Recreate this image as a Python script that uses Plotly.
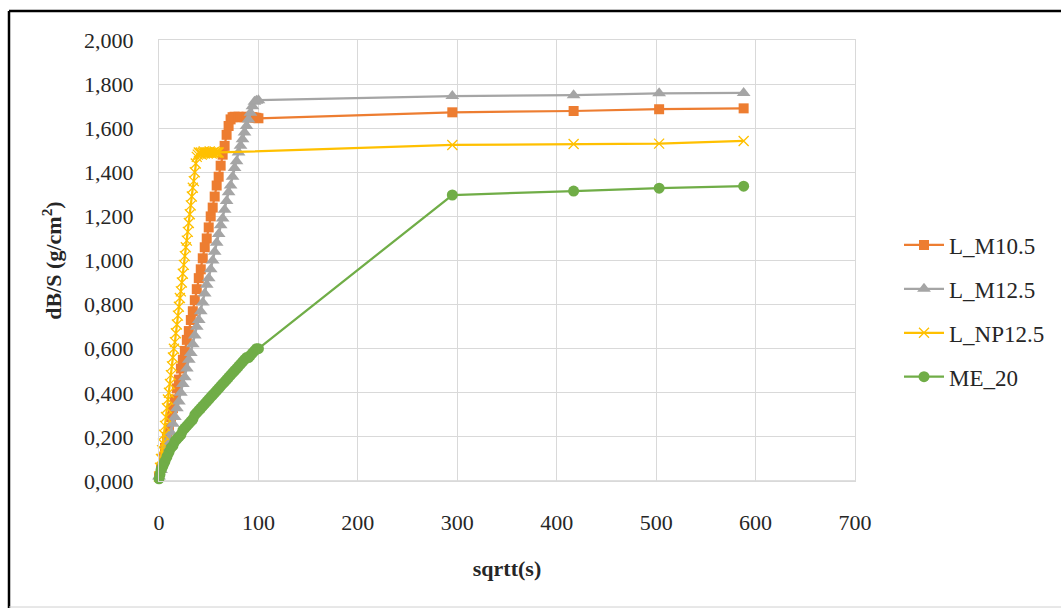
import plotly.graph_objects as go

# ---------------- data ----------------
series_names = ["L_M10.5", "L_M12.5", "L_NP12.5", "ME_20"]

m105_x = [0, 2, 4, 6, 8, 10, 12, 14, 16, 18, 20, 22, 24, 26, 28, 30, 32, 34, 36, 38,
          40, 42, 44, 46, 48, 50, 52, 54, 56, 58, 60, 62, 64, 66, 68, 70, 72, 74, 76, 78,
          80, 82, 84, 86, 88, 90, 92, 94, 96, 98, 100, 295, 417, 503, 588]
m105_y = [0.02, 0.06, 0.11, 0.15, 0.20, 0.24, 0.29, 0.33, 0.37, 0.42, 0.46, 0.51, 0.55, 0.59,
          0.64, 0.68, 0.73, 0.77, 0.82, 0.87, 0.92, 0.96, 1.01, 1.06, 1.10, 1.15, 1.20, 1.24,
          1.29, 1.34, 1.38, 1.43, 1.48, 1.52, 1.57, 1.61, 1.64, 1.65, 1.652, 1.65, 1.652, 1.65,
          1.651, 1.65, 1.652, 1.65, 1.651, 1.65, 1.648, 1.647, 1.645, 1.672, 1.678, 1.686, 1.69]

m125_x = [0, 2, 4, 6, 8, 10, 12, 14, 16, 18, 20, 22, 24, 26, 28, 30, 32, 34, 36, 38,
          40, 42, 44, 46, 48, 50, 52, 54, 56, 58, 60, 62, 64, 66, 68, 70, 72, 74, 76, 78,
          80, 82, 84, 86, 88, 90, 92, 94, 96, 98, 100, 295, 417, 503, 588]
m125_y = [0.02, 0.05, 0.09, 0.12, 0.16, 0.19, 0.22, 0.26, 0.29, 0.33, 0.36, 0.40, 0.44, 0.47,
          0.51, 0.55, 0.58, 0.62, 0.66, 0.70, 0.73, 0.77, 0.81, 0.85, 0.89, 0.92, 0.96, 1.00,
          1.04, 1.08, 1.12, 1.16, 1.19, 1.23, 1.27, 1.31, 1.34, 1.38, 1.42, 1.45, 1.49, 1.52,
          1.55, 1.58, 1.61, 1.64, 1.67, 1.70, 1.72, 1.725, 1.727, 1.746, 1.75, 1.758, 1.76]

np125_x = [0, 1, 2, 3, 4, 5, 6, 7, 8, 9, 10, 11, 12, 13, 14, 15, 16, 17, 18, 19, 20, 21, 22,
           23, 24, 25, 26, 27, 28, 29, 30, 31, 32, 33, 34, 35, 36, 37, 38, 39, 40, 41, 42, 43,
           44, 45, 46, 47, 48, 49, 50, 51, 52, 53, 54, 55, 56, 57, 58, 59, 60, 295, 417, 503, 588]
np125_y = [0.02, 0.06, 0.10, 0.14, 0.17, 0.21, 0.25, 0.29, 0.33, 0.37, 0.40, 0.44, 0.48, 0.52,
           0.56, 0.60, 0.63, 0.67, 0.71, 0.75, 0.79, 0.83, 0.86, 0.90, 0.94, 0.98, 1.02, 1.06,
           1.09, 1.13, 1.17, 1.21, 1.25, 1.29, 1.33, 1.36, 1.40, 1.44, 1.47, 1.48, 1.49, 1.485,
           1.49, 1.48, 1.49, 1.495, 1.485, 1.49, 1.49, 1.485, 1.49, 1.495, 1.49, 1.485, 1.49,
           1.49, 1.495, 1.49, 1.49, 1.49, 1.49, 1.524, 1.528, 1.53, 1.542]

me20_x = [0, 1, 2, 3, 4, 5, 6, 8, 10, 12, 14, 16, 18, 20, 22, 24, 26, 28, 30, 32, 34, 36, 38,
          40, 42, 44, 46, 48, 50, 52, 54, 56, 58, 60, 62, 64, 66, 68, 70, 72, 74, 76, 78, 80,
          82, 84, 86, 88, 90, 92, 94, 96, 98, 100, 295, 417, 503, 588]
me20_y = [0.01, 0.03, 0.05, 0.06, 0.07, 0.08, 0.09, 0.11, 0.13, 0.15, 0.16, 0.18, 0.19, 0.20,
          0.21, 0.23, 0.24, 0.25, 0.26, 0.27, 0.28, 0.30, 0.31, 0.32, 0.33, 0.34, 0.35, 0.36,
          0.37, 0.38, 0.39, 0.40, 0.41, 0.42, 0.43, 0.44, 0.45, 0.46, 0.47, 0.48, 0.49, 0.50,
          0.51, 0.52, 0.53, 0.54, 0.55, 0.56, 0.56, 0.57, 0.58, 0.59, 0.60, 0.60,
          1.297, 1.315, 1.328, 1.337]

y_ticks = [0, 0.2, 0.4, 0.6, 0.8, 1.0, 1.2, 1.4, 1.6, 1.8, 2.0]
x_ticks = [0, 100, 200, 300, 400, 500, 600, 700]

# ---------------- styling ----------------
FONT = "Palatino Linotype, Book Antiqua, Palatino, Liberation Serif, serif"
colors = ["#ED7D31", "#A5A5A5", "#FFC000", "#70AD47"]
grid = "#D9D9D9"

fig = go.Figure()
data = [(m105_x, m105_y), (m125_x, m125_y), (np125_x, np125_y), (me20_x, me20_y)]
markers = [
    dict(symbol="square", size=10, color=colors[0]),
    dict(symbol="triangle-up", size=12, color=colors[1]),
    dict(symbol="x-thin", size=10, color=colors[2], line=dict(width=1.3, color=colors[2])),
    dict(symbol="circle", size=11, color=colors[3]),
]
for i, (name, (xs, ys)) in enumerate(zip(series_names, data)):
    fig.add_trace(go.Scatter(
        x=xs, y=ys, name=name, mode="lines+markers",
        line=dict(color=colors[i], width=2.25),
        marker=markers[i], cliponaxis=False, legendgroup=name,
    ))

L, R, T, B = 159, 206, 40, 127
W, H = 1061, 608
pw, ph = W - L - R, H - T - B

def px2x(p):
    return (p - L) / pw

def px2y(p):
    return (H - B - p) / ph

fig.update_layout(
    width=W, height=H,
    margin=dict(l=L, r=R, t=T, b=B, pad=0, autoexpand=False),
    paper_bgcolor="white", plot_bgcolor="white",
    separators=",.",
    font=dict(family=FONT, size=22, color="#262626"),
    showlegend=True,
    legend=dict(
        x=px2x(899), xanchor="left", y=px2y(311), yanchor="middle",
        font=dict(family=FONT, size=23, color="#262626"),
        tracegroupgap=11, bgcolor="rgba(0,0,0,0)",
        itemwidth=40,
    ),
    xaxis=dict(
        range=[0, 700], tickvals=x_ticks, tickformat="d",
        showgrid=True, gridcolor=grid, gridwidth=1,
        zeroline=False, showline=True, linecolor=grid, mirror=True,
        ticks="", ticklabelstandoff=22,
        title=dict(text="<b>sqrtt(s)</b>", standoff=26,
                   font=dict(family=FONT, size=22, color="#262626")),
    ),
    yaxis=dict(
        range=[0, 2.0], tickvals=y_ticks, tickformat=".3f",
        showgrid=True, gridcolor=grid, gridwidth=1,
        zeroline=False, showline=True, linecolor=grid, mirror=True,
        ticks="", ticklabelstandoff=20,
        title=dict(text="<b>dB/S (g/cm<sup>2</sup>)</b>", standoff=16,
                   font=dict(family=FONT, size=22, color="#262626")),
    ),
    shapes=[
        # outer frame
        dict(type="line", xref="paper", yref="paper", x0=px2x(9), x1=px2x(1100),
             y0=px2y(11), y1=px2y(11), line=dict(color="black", width=2.5)),
        dict(type="line", xref="paper", yref="paper", x0=px2x(9), x1=px2x(9),
             y0=px2y(11), y1=px2y(620), line=dict(color="black", width=2.5)),
        dict(type="line", xref="paper", yref="paper", x0=px2x(9), x1=px2x(1100),
             y0=px2y(607), y1=px2y(607), line=dict(color="#d0d0d0", width=1)),
        # bottom axis line slightly darker
        dict(type="line", xref="paper", yref="paper", x0=0, x1=1, y0=0, y1=0,
             line=dict(color="#BFBFBF", width=1), layer="below"),
    ],
)

fig.write_html("out.html")
